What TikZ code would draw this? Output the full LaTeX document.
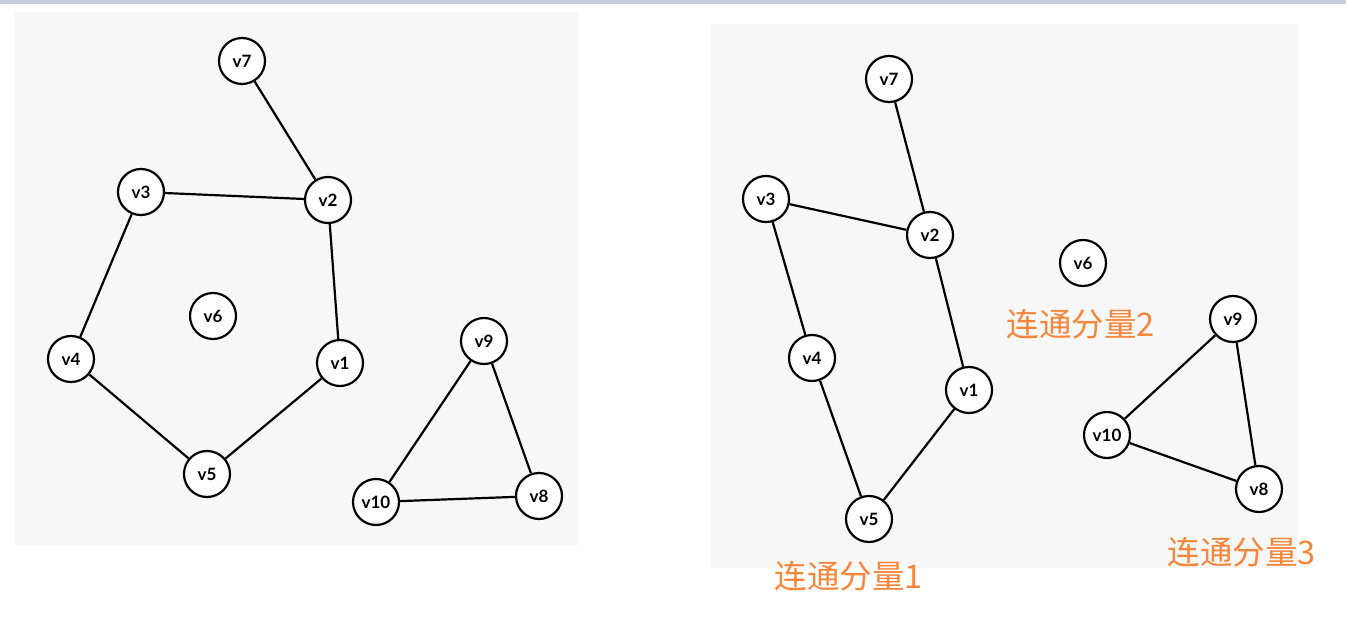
\documentclass[tikz,border=0pt]{standalone}
\usepackage{fontspec}
\setmainfont{Lato}
\newfontfamily\cjk{Noto Sans CJK SC}
\definecolor{panel}{HTML}{F7F7F7}
\definecolor{topbar}{HTML}{C5CDDF}
\definecolor{lblorange}{HTML}{F7863A}
\begin{document}
\begin{tikzpicture}[x=1pt,y=-1pt,
  vtx/.style={circle,draw=black,fill=white,line width=2.2pt,minimum size=46pt,inner sep=0pt,font=\fontsize{17}{17}\selectfont\bfseries},
  edge/.style={line width=2.2pt,black},
  comp/.style={text=lblorange,font=\cjk\fontsize{32.5}{32.5}\selectfont,inner sep=0pt}]
\useasboundingbox (0,0) rectangle (1346,628);
\fill[white] (0,0) rectangle (1346,628);
\fill[topbar] (0,0) rectangle (1346,4);
\fill[panel] (15,12) rectangle (578,545);
\fill[panel] (711,24) rectangle (1298,568);
% left graph
\node[vtx] (a7) at (242,61) {v7};
\node[vtx] (a2) at (328,200) {v2};
\node[vtx] (a3) at (141,192) {v3};
\node[vtx] (a6) at (213,316) {v6};
\node[vtx] (a4) at (71,359) {v4};
\node[vtx] (a1) at (340,363) {v1};
\node[vtx] (a5) at (207,474) {v5};
\node[vtx] (a9) at (484,341) {v9};
\node[vtx] (a10) at (376,502) {v10};
\node[vtx] (a8) at (539,496) {v8};
\draw[edge] (a7)--(a2) (a3)--(a2) (a2)--(a1) (a3)--(a4) (a4)--(a5) (a5)--(a1)
  (a9)--(a10) (a9)--(a8) (a10)--(a8);
% right graph
\node[vtx] (b7) at (889,79) {v7};
\node[vtx] (b3) at (766,199) {v3};
\node[vtx] (b2) at (930,235) {v2};
\node[vtx] (b6) at (1083,263) {v6};
\node[vtx] (b4) at (812,358) {v4};
\node[vtx] (b1) at (969,390) {v1};
\node[vtx] (b5) at (869,519) {v5};
\node[vtx] (b9) at (1233,319) {v9};
\node[vtx] (b10) at (1107,435) {v10};
\node[vtx] (b8) at (1259,489) {v8};
\draw[edge] (b7)--(b2) (b3)--(b2) (b2)--(b1) (b3)--(b4) (b4)--(b5) (b5)--(b1)
  (b9)--(b10) (b9)--(b8) (b10)--(b8);
\node[comp] (c1) at (849,576) {连通分量1};
\node[comp] (c2) at (1081,324) {连通分量2};
\node[comp] (c3) at (1242,552) {连通分量3};
\end{tikzpicture}
\end{document}
